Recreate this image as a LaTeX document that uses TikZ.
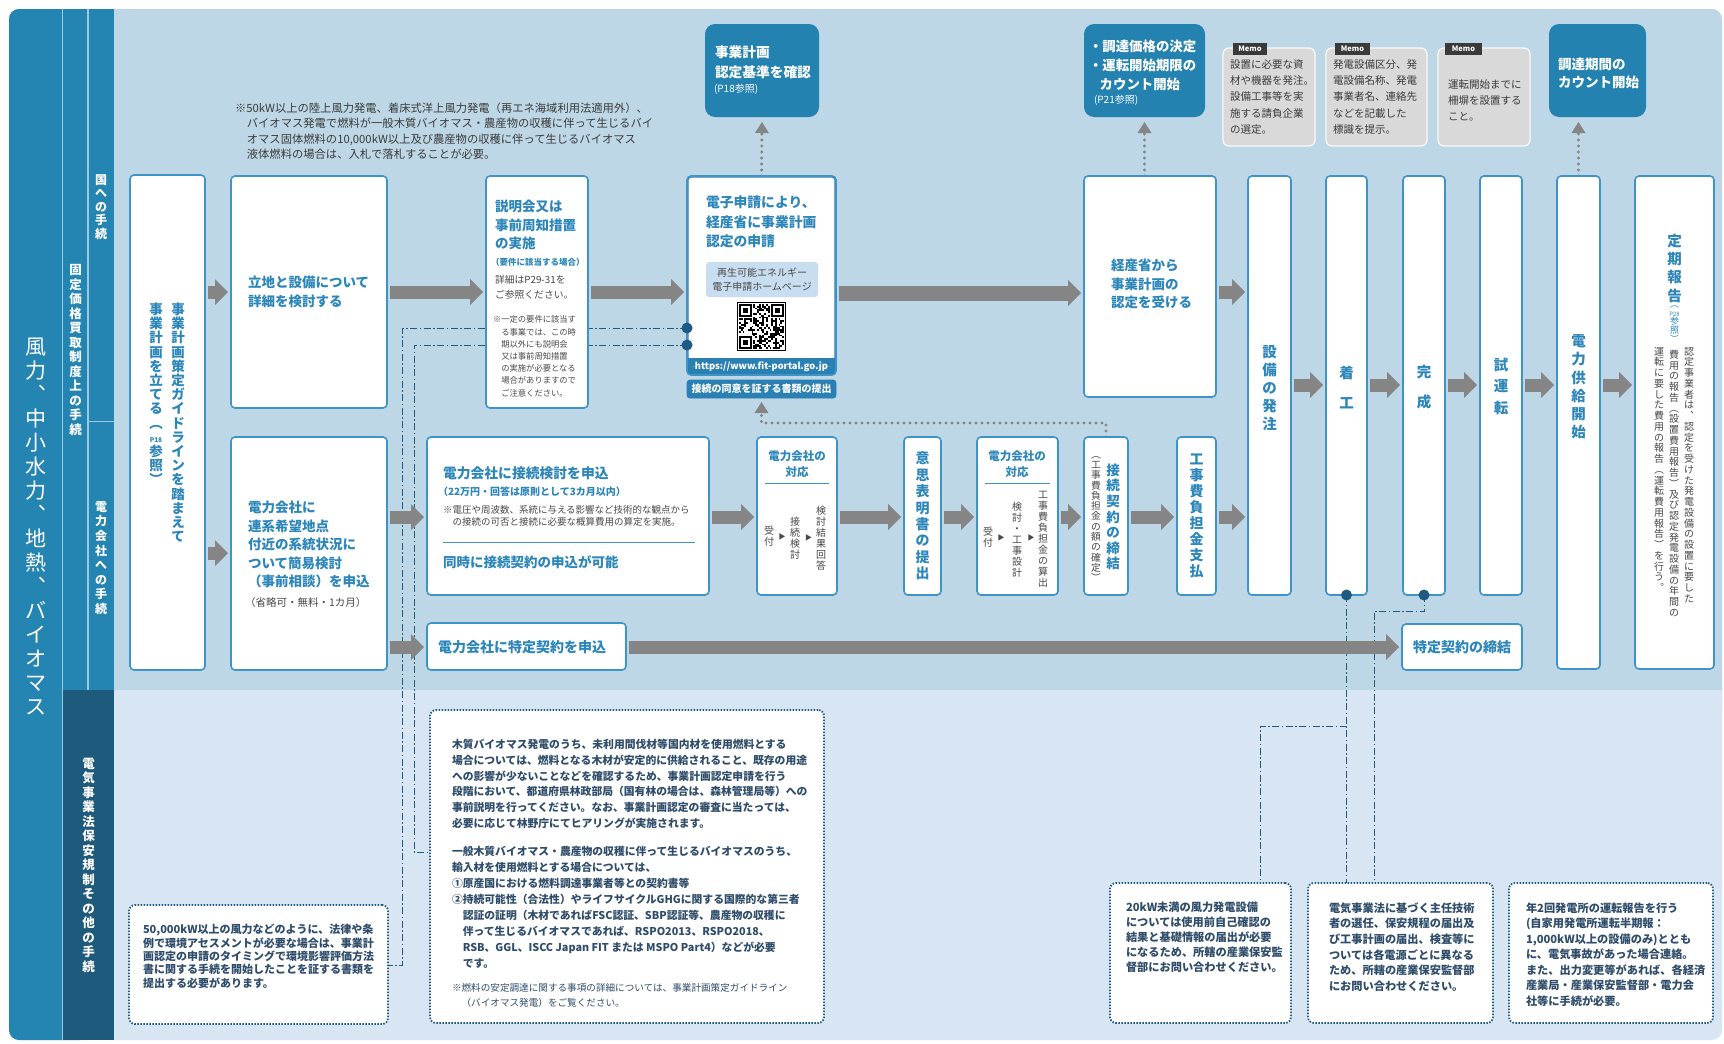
\documentclass[tikz,border=0pt]{standalone}
\usepackage{fontspec}
\setmainfont{Noto Sans CJK JP}
\usepackage{graphicx}
\usetikzlibrary{arrows.meta,calc}
\pgfdeclarelayer{back}
\pgfdeclarelayer{lines}
\pgfsetlayers{back,lines,main}
\definecolor{upbg}{HTML}{BED7E7}
\definecolor{lowbg}{HTML}{D7E6F2}
\definecolor{barblue}{HTML}{2585B2}
\definecolor{bardark}{HTML}{1E5A7B}
\definecolor{sepline}{HTML}{9CC9DF}
\definecolor{bluetxt}{HTML}{2C86BA}
\definecolor{boxline}{HTML}{3E93C7}
\definecolor{stripblue}{HTML}{2A80B3}
\definecolor{dkbox}{HTML}{2382AF}
\definecolor{ltblue}{HTML}{C8DDF0}
\definecolor{agrey}{HTML}{858585}
\definecolor{dotblue}{HTML}{1F5A82}
\definecolor{notetxt}{HTML}{2F4D6B}
\definecolor{txtgrey}{HTML}{484848}
\definecolor{notegrey}{HTML}{3A3A3A}
\definecolor{memogrey}{HTML}{D9D9D9}
\definecolor{memodark}{HTML}{3A3A3A}
\makeatletter
\newcommand\vtext[2]{\vbox{\baselineskip=#1\relax\lineskiplimit=-\maxdimen\@tfor\vtch:=#2\do{\hbox to 1em{\hss\vtch\hss}}}}
\makeatother
\newcommand\fs[2]{\fontsize{#1}{#2}\selectfont}
\tikzset{
 box/.style={draw=boxline, line width=1.6pt, fill=white, rounded corners=4pt, inner sep=0pt, outer sep=0pt},
 dbox/.style={fill=dkbox, draw=none, rounded corners=10pt},
 mbox/.style={fill=memogrey, draw=white!85!memogrey, line width=1.2pt, rounded corners=6pt},
 nbox/.style={draw=dotblue, line width=1.8pt, dash pattern=on 1.5pt off 1.5pt, fill=white, rounded corners=6pt},
 tx/.style={inner sep=0pt, outer sep=0pt, anchor=north west, align=left},
 vt/.style={inner sep=0pt, outer sep=0pt},
 garrow/.style={draw=agrey, line width=13pt, -{Triangle[length=13pt,width=26pt,line width=0pt]}},
 dotarr/.style={draw=agrey, line width=3.4pt, line cap=round, dash pattern=on 0pt off 6pt, -{Triangle[length=11pt,width=14pt,line width=0pt]}},
 dashdot/.style={draw=dotblue, line width=1pt, dash pattern=on 7pt off 2.5pt on 1.5pt off 2.5pt},
 dotc/.style={circle, fill=dotblue, inner sep=0pt, minimum size=11pt},
}
\newcommand\bx[6][]{\node[box,#1,anchor=north west,minimum width={(#4-#2)*1pt},minimum height={(#5-#3)*1pt}] (#6) at (#2,#3) {};}
\newcommand\harr[4][]{\draw[garrow,#1] ($(#2.east|-0,#4)+(3,0)$) -- ($(#3.west|-0,#4)+(-3,0)$);}
\begin{document}
\begin{tikzpicture}[x=1pt,y=-1pt]
\useasboundingbox (0,0) rectangle (1724,1044);
\begin{pgfonlayer}{back}
 \fill[white] (0,0) rectangle (1724,1044);
 \fill[lowbg, rounded corners=10pt] (9,9) rectangle (1722,1040);
 \fill[upbg, rounded corners=10pt] (9,9) rectangle (1722,720);
 \fill[lowbg] (60,690) rectangle (1722,730);
 \fill[barblue, rounded corners=10pt] (9,9) rectangle (90,1040);
 \fill[barblue] (62,9) rectangle (114,690);
 \fill[bardark] (63,690) rectangle (114,1040);
 \draw[sepline, line width=1.2pt] (62.5,9) -- (62.5,1040) (88,9) -- (88,690) (88,421.5) -- (114,421.5);
\end{pgfonlayer}

% ---- side labels
\node[vt, text=white, font=\fs{21}{24}] (lbl0) at (35.5,527) {\vtext{24pt}{風力︑中小水力︑地熱︑バイオマス}};
\node[vt, text=white, font=\fs{12.5}{14}\bfseries] (lbl1) at (75.5,350) {\vtext{14.5pt}{固定価格買取制度上の手続}};
\node[vt, text=white, font=\fs{12}{14}\bfseries] (lbl2) at (101,207) {\vtext{13.5pt}{国への手続}};
\node[vt, text=white, font=\fs{12}{14}\bfseries] (lbl3) at (101,558) {\vtext{14.6pt}{電力会社への手続}};
\node[vt, text=white, font=\fs{12.5}{14}\bfseries] (lbl4) at (88.5,865) {\vtext{14.5pt}{電気事業法保安規制その他の手続}};

% ---- top note
\node[tx, font=\fs{11.3}{15.6}, text=notegrey] (note) at (235,102.5) {※50kW以上の陸上風力発電、着床式洋上風力発電（再エネ海域利用法適用外）、\\\hspace*{1.05em}バイオマス発電で燃料が一般木質バイオマス・農産物の収穫に伴って生じるバイ\\\hspace*{1.05em}オマス固体燃料の10,000kW以上及び農産物の収穫に伴って生じるバイオマス\\\hspace*{1.05em}液体燃料の場合は、入札で落札することが必要。};

% ---- boxes row 1
\bx{130}{175}{205}{670}{b1}
\node[vt, anchor=north, text=bluetxt, font=\fs{13.5}{14}\bfseries] (b1a) at (178,303) {\vtext{14.2pt}{事業計画策定ガイドラインを踏まえて}};
\node[vt, anchor=north, text=bluetxt, font=\fs{13.5}{14}\bfseries] (b1b) at (156,303) {\vtext{14.2pt}{事業計画を立てる︵{\fs{6.5}{7}P18}参照︶}};

\bx{231}{176}{387}{408}{b2}
\node[tx, font=\fs{13.5}{19}\bfseries, text=bluetxt] (b2a) at (248,276) {立地と設備について\\詳細を検討する};

\bx{231}{437}{387}{670}{b3}
\node[tx, font=\fs{13.5}{18.6}\bfseries, text=bluetxt] (b3a) at (248,501) {電力会社に\\連系希望地点\\付近の系統状況に\\ついて簡易検討\\（事前相談）を申込};
\node[tx, font=\fs{10.5}{12}, text=txtgrey] (b3b) at (245,598) {（省略可・無料・1カ月）};

\bx{486}{176}{588}{408}{b4}
\node[tx, font=\fs{13.5}{18.5}\bfseries, text=bluetxt] (b4a) at (495,200) {説明会又は\\事前周知措置\\の実施};
\node[tx, font=\fs{8.5}{10}\bfseries, text=bluetxt] (b4b) at (491,258) {（要件に該当する場合）};
\node[tx, font=\fs{9.8}{15}, text=txtgrey] (b4c) at (495,275) {詳細はP29-31を\\ご参照ください。};
\node[tx, font=\fs{8.3}{12.2}, text=txtgrey] (b4d) at (493,316) {※一定の要件に該当す\\\hspace*{1em}る事業では、この時\\\hspace*{1em}期以外にも説明会\\\hspace*{1em}又は事前周知措置\\\hspace*{1em}の実施が必要となる\\\hspace*{1em}場合がありますので\\\hspace*{1em}ご注意ください。};

\bx[fill=stripblue]{687}{176}{836}{375}{b5}
\fill[white, rounded corners=3pt] (688.6,177.6) rectangle (834.4,366);
\fill[stripblue] (687.8,358) rectangle (835.2,366);
\node[tx, font=\fs{13.8}{19.5}\bfseries, text=bluetxt] (b5a) at (706,196) {電子申請により、\\経産省に事業計画\\認定の申請};
\bx[fill=ltblue, draw=none, rounded corners=3pt]{706}{262}{818}{297}{lb}
\node[font=\fs{10}{14}, text=txtgrey, align=center, inner sep=0pt] (lbt) at (lb) {再生可能エネルギー\\電子申請ホームページ};
\node[font=\fs{9.3}{10}\bfseries, text=white, inner sep=0pt] (url) at (761.5,366.5) {https://www.fit-portal.go.jp};
\bx[fill=stripblue, draw=stripblue, line width=0.8pt, rounded corners=3pt]{687}{380}{836}{398}{b5s}
\node[font=\fs{10}{10}\bfseries, text=white, inner sep=0pt] (b5st) at (b5s) {接続の同意を証する書類の提出};
% QR code
\fill[white] (739,304) rectangle (784,349);
\pgfmathsetseed{4242}
\foreach \i in {0,...,24}{\foreach \j in {0,...,24}{%
  \pgfmathrandominteger{\qrv}{0}{1}%
  \ifnum\qrv=1 \fill[black] ({739+1.8*\i},{304+1.8*\j}) rectangle ++(1.8,1.8);\fi}}
\foreach \fx/\fy/\sx/\sy in {739/304/739/304, 771.4/304/769.6/304, 739/336.4/739/334.6}{
  \fill[white] (\sx,\sy) rectangle ++(14.4,14.4);
  \fill[black] (\fx,\fy) rectangle ++(12.6,12.6);
  \fill[white] ({\fx+1.8},{\fy+1.8}) rectangle ++(9,9);
  \fill[black] ({\fx+3.6},{\fy+3.6}) rectangle ++(5.4,5.4);
}
\draw[black, line width=1.2pt] (737.5,302.5) rectangle (785.5,350.5);

\bx{1084}{176}{1216}{397}{b6}
\node[tx, font=\fs{13.5}{18.5}\bfseries, text=bluetxt] (b6a) at (1111,259) {経産省から\\事業計画の\\認定を受ける};

\bx{1248}{176}{1291}{595}{b7}
\node[vt, text=bluetxt, font=\fs{14.5}{15}\bfseries] (b7a) at (1269.5,388) {\vtext{18pt}{設備の発注}};
\bx{1326}{176}{1367}{595}{b8}
\node[vt, text=bluetxt, font=\fs{14.5}{15}\bfseries] (b8a) at (1346.5,387) {\vtext{30pt}{着工}};
\bx{1403}{176}{1445}{595}{b9}
\node[vt, text=bluetxt, font=\fs{14.5}{15}\bfseries] (b9a) at (1424,387) {\vtext{30pt}{完成}};
\bx{1480}{176}{1522}{595}{b10}
\node[vt, text=bluetxt, font=\fs{14.5}{15}\bfseries] (b10a) at (1501,386) {\vtext{21.5pt}{試運転}};
\bx{1557}{176}{1600}{669}{b11}
\node[vt, text=bluetxt, font=\fs{14.5}{15}\bfseries] (b11a) at (1578.5,387) {\vtext{18.2pt}{電力供給開始}};
\bx{1635}{176}{1714}{669}{b12}
\node[vt, anchor=north, text=bluetxt, font=\fs{14.5}{15}\bfseries] (b12a) at (1674.5,234) {\vtext{18.3pt}{定期報告}};
\node[vt, anchor=north, text=bluetxt, font=\fs{9}{9}] (b12b) at (1674.5,306) {\vtext{8.6pt}{︵{\fs{6}{6}P28}参照︶}};
\node[vt, anchor=north, text=txtgrey, font=\fs{10}{11}] (b12c) at (1689,347) {\vtext{10.75pt}{認定事業者は︑認定を受けた発電設備の設置に要した}};
\node[vt, anchor=north, text=txtgrey, font=\fs{10}{11}] (b12d) at (1674,350) {\vtext{10.75pt}{費用の報告︵設置費用報告︶及び認定発電設備の年間の}};
\node[vt, anchor=north, text=txtgrey, font=\fs{10}{11}] (b12e) at (1659,347) {\vtext{10.75pt}{運転に要した費用の報告︵運転費用報告︶を行う︒}};

% ---- top dark boxes and memos
\bx[dbox]{705}{24}{819}{117}{t1}
\node[tx, font=\fs{13.7}{20}\bfseries, text=white] (t1a) at (715,46) {事業計画\\認定基準を確認};
\node[tx, font=\fs{10}{12}, text=white] (t1b) at (714,84) {(P18参照)};
\bx[dbox]{1084}{24}{1205}{117}{t2}
\node[tx, font=\fs{13.4}{19}\bfseries, text=white] (t2a) at (1089,40) {・調達価格の決定\\・運転開始期限の\\\hspace*{0.8em}カウント開始};
\node[tx, font=\fs{10}{12}, text=white] (t2b) at (1094,95) {(P21参照)};
\bx[dbox]{1549}{24}{1646}{117}{t3}
\node[tx, font=\fs{13.5}{17.5}\bfseries, text=white] (t3a) at (1558,58) {調達期間の\\カウント開始};

\bx[mbox]{1223}{48}{1315}{146}{m1}
\bx[mbox]{1326}{48}{1427}{146}{m2}
\bx[mbox]{1438}{48}{1530}{146}{m3}
\bx[fill=memodark, draw=none, sharp corners]{1233}{43}{1267}{55}{m1l}
\bx[fill=memodark, draw=none, sharp corners]{1335}{43}{1370}{55}{m2l}
\bx[fill=memodark, draw=none, sharp corners]{1445}{43}{1482}{55}{m3l}
\node[font=\fs{7.5}{8}\bfseries, text=white, inner sep=0pt] (m1lt) at (m1l) {Memo};
\node[font=\fs{7.5}{8}\bfseries, text=white, inner sep=0pt] (m2lt) at (m2l) {Memo};
\node[font=\fs{7.5}{8}\bfseries, text=white, inner sep=0pt] (m3lt) at (m3l) {Memo};
\node[tx, font=\fs{10.5}{16.3}, text=notegrey] (m1a) at (1230,59.5) {設置に必要な資\\材や機器を発注。\\設備工事等を実\\施する請負企業\\の選定。};
\node[tx, font=\fs{10.5}{16.3}, text=notegrey] (m2a) at (1333,59.5) {発電設備区分、発\\電設備名称、発電\\事業者名、連絡先\\などを記載した\\標識を提示。};
\node[tx, font=\fs{10.5}{16}, text=notegrey] (m3a) at (1448,79.5) {運転開始までに\\柵塀を設置する\\こと。};

% ---- row 2
\bx{427}{437}{709}{595}{c1}
\node[tx, font=\fs{13.8}{16}\bfseries, text=bluetxt] (c1a) at (443,467) {電力会社に接続検討を申込};
\node[tx, font=\fs{10}{12}\bfseries, text=bluetxt] (c1b) at (438,487) {（22万円・回答は原則として3カ月以内）};
\node[tx, font=\fs{9.5}{11.5}, text=txtgrey] (c1c) at (443,505.5) {※電圧や周波数、系統に与える影響など技術的な観点から\\\hspace*{1em}の接続の可否と接続に必要な概算費用の算定を実施。};
\draw[boxline, line width=1pt] (443,542) -- (695,542);
\node[tx, font=\fs{13.5}{16}\bfseries, text=bluetxt] (c1d) at (443,555.5) {同時に接続契約の申込が可能};

\bx{757}{437}{837}{595}{c2}
\node[font=\fs{11.5}{16}\bfseries, text=bluetxt, align=center, inner sep=0pt] (c2a) at (797,464) {電力会社の\\対応};
\draw[boxline, line width=1pt] (765,483) -- (829,483);
\node[vt, text=txtgrey, font=\fs{10}{11}] (c2b) at (769,536) {\vtext{11pt}{受付}};
\node[font=\fs{7}{7}, text=txtgrey, inner sep=0pt] (c2c) at (782,537) {▶};
\node[vt, text=txtgrey, font=\fs{10}{11}] (c2d) at (795,538) {\vtext{11pt}{接続検討}};
\node[font=\fs{7}{7}, text=txtgrey, inner sep=0pt] (c2e) at (808.5,538) {▶};
\node[vt, text=txtgrey, font=\fs{10}{11}] (c2f) at (821,538) {\vtext{11pt}{検討結果回答}};

\bx{904}{437}{941}{595}{c3}
\node[vt, text=bluetxt, font=\fs{14}{15}\bfseries] (c3a) at (922.5,516) {\vtext{16.4pt}{意思表明書の提出}};

\bx{977}{437}{1058}{595}{c4}
\node[font=\fs{11.5}{16}\bfseries, text=bluetxt, align=center, inner sep=0pt] (c4a) at (1017,464) {電力会社の\\対応};
\draw[boxline, line width=1pt] (985,483) -- (1050,483);
\node[vt, text=txtgrey, font=\fs{10}{11}] (c4b) at (988,537) {\vtext{11pt}{受付}};
\node[font=\fs{7}{7}, text=txtgrey, inner sep=0pt] (c4c) at (1001,538) {▶};
\node[vt, text=txtgrey, font=\fs{10}{11}] (c4d) at (1017,540) {\vtext{11pt}{検討・工事設計}};
\node[font=\fs{7}{7}, text=txtgrey, inner sep=0pt] (c4e) at (1031,538) {▶};
\node[vt, text=txtgrey, font=\fs{10}{11}] (c4f) at (1043,539) {\vtext{11pt}{工事費負担金の算出}};

\bx{1084}{437}{1128}{595}{c5}
\node[vt, text=bluetxt, font=\fs{13.5}{15}\bfseries] (c5a) at (1113,517) {\vtext{15.6pt}{接続契約の締結}};
\node[vt, text=txtgrey, font=\fs{9.8}{11}] (c5b) at (1096,519) {\vtext{10.3pt}{︵工事費負担金の額の確定︶}};

\bx{1177}{437}{1216}{595}{c6}
\node[vt, text=bluetxt, font=\fs{14}{15}\bfseries] (c6a) at (1196.5,516) {\vtext{16pt}{工事費負担金支払}};

\bx{427}{623}{626}{670}{c7}
\node[font=\fs{14}{15}\bfseries, text=bluetxt, anchor=west, inner sep=0pt] (c7a) at (438,647) {電力会社に特定契約を申込};
\bx{1402}{624}{1522}{670}{c8}
\node[font=\fs{14}{15}\bfseries, text=bluetxt, inner sep=0pt] (c8a) at (c8) {特定契約の締結};

% ---- lower notes
\bx[nbox]{129}{905}{388}{1024}{nA}
\node[tx, font=\fs{11}{13.3}\bfseries, text=notetxt] (nAa) at (143,924.5) {50,000kW以上の風力などのように、法律や条\\例で環境アセスメントが必要な場合は、事業計\\画認定の申請のタイミングで環境影響評価方法\\書に関する手続を開始したことを証する書類を\\提出する必要があります。};
\bx[nbox]{430}{710}{824}{1023}{nB}
\node[tx, font=\fs{10.8}{15.7}\bfseries, text=notetxt] (nBa) at (452,739.5) {木質バイオマス発電のうち、未利用間伐材等国内材を使用燃料とする\\場合については、燃料となる木材が安定的に供給されること、既存の用途\\への影響が少ないことなどを確認するため、事業計画認定申請を行う\\段階において、都道府県林政部局（国有林の場合は、森林管理局等）への\\事前説明を行ってください。なお、事業計画認定の審査に当たっては、\\必要に応じて林野庁にてヒアリングが実施されます。};
\node[tx, font=\fs{10.8}{16}\bfseries, text=notetxt] (nBb) at (452,846.5) {一般木質バイオマス・農産物の収穫に伴って生じるバイオマスのうち、\\輸入材を使用燃料とする場合については、\\①原産国における燃料調達事業者等との契約書等\\②持続可能性（合法性）やライフサイクルGHGに関する国際的な第三者\\\hspace*{1em}認証の証明（木材であればFSC認証、SBP認証等、農産物の収穫に\\\hspace*{1em}伴って生じるバイオマスであれば、RSPO2013、RSPO2018、\\\hspace*{1em}RSB、GGL、ISCC Japan FIT または MSPO Part4）などが必要\\\hspace*{1em}です。};
\node[tx, font=\fs{9.6}{15}, text=notetxt] (nBc) at (452,983.2) {※燃料の安定調達に関する事項の詳細については、事業計画策定ガイドライン\\\hspace*{1em}（バイオマス発電）をご覧ください。};
\bx[nbox]{1110}{883}{1291}{1023}{nC}
\node[tx, font=\fs{11.2}{15}\bfseries, text=notetxt] (nCa) at (1126,902.4) {20kW未満の風力発電設備\\については使用前自己確認の\\結果と基礎情報の届出が必要\\になるため、所轄の産業保安監\\督部にお問い合わせください。};
\bx[nbox]{1308}{883}{1493}{1023}{nD}
\node[tx, font=\fs{11.2}{15.7}\bfseries, text=notetxt] (nDa) at (1329,902.4) {電気事業法に基づく主任技術\\者の選任、保安規程の届出及\\び工事計画の届出、検査等に\\ついては各電源ごとに異なる\\ため、所轄の産業保安監督部\\にお問い合わせください。};
\bx[nbox]{1509}{883}{1713}{1023}{nE}
\node[tx, font=\fs{11.2}{15.5}\bfseries, text=notetxt] (nEa) at (1526,902.4) {年2回発電所の運転報告を行う\\(自家用発電所運転半期報：\\1,000kW以上の設備のみ)ととも\\に、電気事故があった場合連絡。\\また、出力変更等があれば、各経済\\産業局・産業保安監督部・電力会\\社等に手続が必要。};

% ---- block arrows
\harr{b1}{b2}{292}
\harr{b1}{b3}{553}
\harr{b2}{b4}{292}
\harr{b4}{b5}{292}
\harr[line width=15pt]{b5}{b6}{293}
\harr{b6}{b7}{292}
\harr{b3}{c1}{517}
\harr{b3}{c7}{647}
\harr{c1}{c2}{517}
\harr{c2}{c3}{517}
\harr{c3}{c4}{517}
\harr{c4}{c5}{517}
\harr{c5}{c6}{517}
\harr{c6}{b7}{517}
\harr{b7}{b8}{385}
\harr{b8}{b9}{385}
\harr{b9}{b10}{385}
\harr{b10}{b11}{385}
\harr{b11}{b12}{385}
\harr{c7}{c8}{647}

% ---- dots
\node[dotc] (d1) at (b5.west |- 0,328) {};
\node[dotc] (d2) at (b5.west |- 0,345) {};
\node[dotc] (e1) at (b8.south) {};
\node[dotc] (e2) at (b9.south) {};

\begin{pgfonlayer}{lines}
 \draw[dotarr] (b5.north) -- ($(t1.south)+(0,5)$);
 \draw[dotarr] (t2.south |- b6.north) -- ($(t2.south)+(0,5)$);
 \draw[dotarr] (b11.north) -- (b11.north |- 0,122);
 \draw[dotarr] (c5.north) -- (c5.north |- 0,423) -- (b5s.south |- 0,423) -- ($(b5s.south)+(0,4)$);
 \draw[dashdot] (d1.center) -- (402,328) -- (402,965) -- (nA.east |- 0,965);
 \draw[dashdot] (d2.center) -- (414,345) -- (414,852) -- (nB.west |- 0,852);
 \draw[dashdot] (e1.center) -- (e1 |- nD.north);
 \draw[dashdot] (e1 |- 0,726) -- (1260,726) -- (1260,0 |- nC.north);
 \draw[dashdot] (e2.center) -- (e2 |- 0,611) -- (1374,611) -- (1374,0 |- nD.north);
\end{pgfonlayer}
\end{tikzpicture}
\end{document}
